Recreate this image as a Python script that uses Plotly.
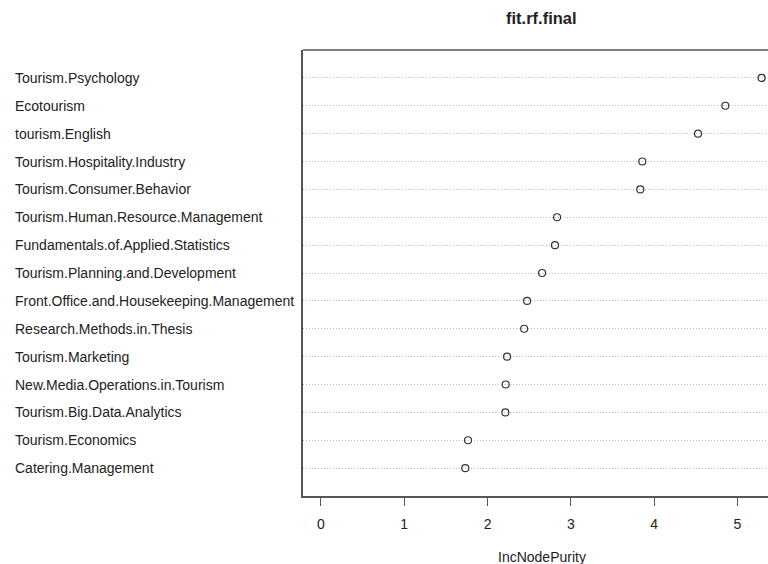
import plotly.graph_objects as go

features = [
    "Tourism.Psychology",
    "Ecotourism",
    "tourism.English",
    "Tourism.Hospitality.Industry",
    "Tourism.Consumer.Behavior",
    "Tourism.Human.Resource.Management",
    "Fundamentals.of.Applied.Statistics",
    "Tourism.Planning.and.Development",
    "Front.Office.and.Housekeeping.Management",
    "Research.Methods.in.Thesis",
    "Tourism.Marketing",
    "New.Media.Operations.in.Tourism",
    "Tourism.Big.Data.Analytics",
    "Tourism.Economics",
    "Catering.Management",
]
inc_node_purity = [5.29, 4.855, 4.527, 3.858, 3.834, 2.835, 2.81, 2.655,
                   2.475, 2.44, 2.235, 2.218, 2.214, 1.766, 1.733]
x_ticks = [0, 1, 2, 3, 4, 5]

n = len(features)
ypos = [n - i for i in range(n)]

FONT = "Liberation Sans, Arial"

fig = go.Figure()
fig.add_trace(go.Scatter(
    x=inc_node_purity, y=ypos, mode="markers",
    marker=dict(symbol="circle-open", size=7, color="#333333",
                line=dict(width=1.2, color="#333333")),
    showlegend=False, hoverinfo="skip", cliponaxis=False,
))

for name, y in zip(features, ypos):
    fig.add_annotation(text=name, x=-0.6237, xref="paper", y=y, yref="y",
                       xanchor="left", yanchor="middle", showarrow=False,
                       font=dict(family=FONT, size=14, color="#222222"))

fig.add_annotation(text="<b>fit.rf.final</b>", x=0.513, xref="paper", y=1, yref="paper",
                   yshift=32, xanchor="center", yanchor="middle", showarrow=False,
                   font=dict(family=FONT, size=16.5, color="#222222"))
fig.add_annotation(text="IncNodePurity", x=0.513, xref="paper", y=0, yref="paper",
                   yshift=-61, xanchor="center", yanchor="middle", showarrow=False,
                   font=dict(family=FONT, size=14, color="#222222"))

# top border of the box
fig.add_shape(type="line", xref="paper", yref="paper", x0=0, x1=1, y0=1, y1=1,
              line=dict(color="#555555", width=1.5))

fig.update_layout(
    width=768, height=564,
    margin=dict(l=303, r=0, t=50, b=68),
    paper_bgcolor="white", plot_bgcolor="white",
    font=dict(family=FONT, color="#222222"),
    hovermode=False,
    xaxis=dict(range=[-0.215, 5.367], tickvals=x_ticks, ticks="outside", ticklen=8,
               tickcolor="#555555", tickwidth=1.2, showline=True, linecolor="#555555",
               linewidth=1.5, showgrid=False, zeroline=False,
               tickfont=dict(size=14, color="#222222"), ticklabelstandoff=6),
    yaxis=dict(range=[0, 16], tickvals=ypos, showticklabels=False, ticks="",
               showline=True, linecolor="#555555", linewidth=1.5,
               showgrid=True, gridcolor="#bdbdbd", griddash="1px,2px", gridwidth=1,
               zeroline=False),
)

fig.write_html("out.html", config={"displayModeBar": False},
               post_script="document.body.style.margin='0';document.body.style.overflow='hidden';")
